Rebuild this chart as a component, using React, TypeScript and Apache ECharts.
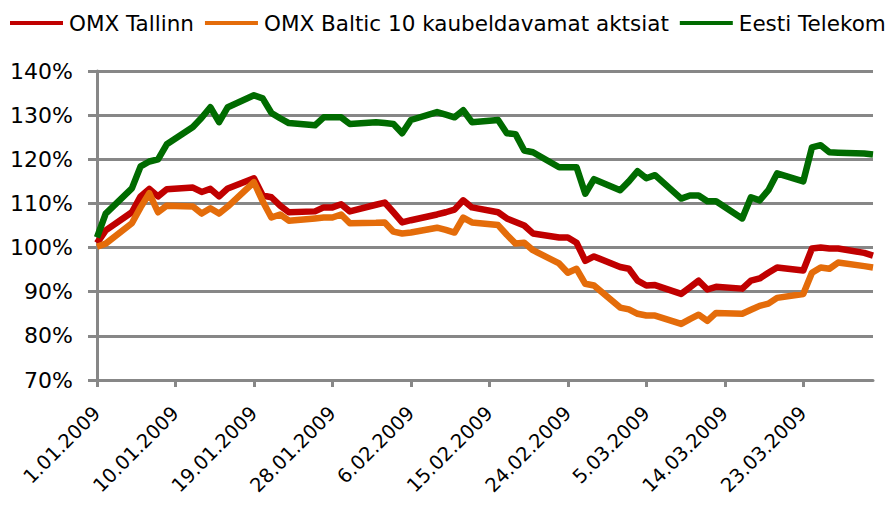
import React, { useEffect, useRef } from "react";
import * as echarts from "echarts";

const dates: string[] = [
  "2009-01-01", "2009-01-02", "2009-01-05", "2009-01-06", "2009-01-07", "2009-01-08", "2009-01-09",
  "2009-01-12", "2009-01-13", "2009-01-14", "2009-01-15", "2009-01-16",
  "2009-01-19", "2009-01-20", "2009-01-21", "2009-01-22", "2009-01-23",
  "2009-01-26", "2009-01-27", "2009-01-28", "2009-01-29", "2009-01-30",
  "2009-02-02", "2009-02-03", "2009-02-04", "2009-02-05", "2009-02-06",
  "2009-02-09", "2009-02-10", "2009-02-11", "2009-02-12", "2009-02-13",
  "2009-02-16", "2009-02-17", "2009-02-18", "2009-02-19", "2009-02-20",
  "2009-02-23", "2009-02-24", "2009-02-25", "2009-02-26", "2009-02-27",
  "2009-03-02", "2009-03-03", "2009-03-04", "2009-03-05", "2009-03-06",
  "2009-03-09", "2009-03-10", "2009-03-11", "2009-03-12", "2009-03-13",
  "2009-03-16", "2009-03-17", "2009-03-18", "2009-03-19", "2009-03-20",
  "2009-03-23", "2009-03-24", "2009-03-25", "2009-03-26", "2009-03-27",
  "2009-03-30", "2009-03-31",
];

const omxTallinn: number[] = [
  101, 103.9, 108, 111.6, 113.3, 111.6, 113.2,
  113.6, 112.6, 113.3, 111.6, 113.4,
  115.7, 111.8, 111.4, 109.5, 108,
  108.2, 109.1, 109.1, 109.8, 108.2,
  109.7, 110.2, 108, 105.7, 106.2,
  107.5, 108, 108.6, 110.7, 109.1,
  108, 106.6, 105.8, 105, 103.2,
  102.3, 102.3, 101.1, 97, 98,
  95.6, 95.2, 92.5, 91.4, 91.5,
  89.5, 91, 92.5, 90.5, 91.1,
  90.7, 92.5, 93, 94.3, 95.5,
  94.8, 99.8, 100, 99.8, 99.8,
  98.8, 98.2,
];

const omxBaltic10: number[] = [
  100.2, 100.9, 105.5, 109.1, 112.3, 108, 109.5,
  109.3, 107.7, 108.9, 107.7, 109.3,
  114.8, 110.5, 106.8, 107.5, 106.1,
  106.6, 106.8, 106.8, 107.5, 105.5,
  105.6, 105.7, 103.6, 103.2, 103.4,
  104.5, 104.0, 103.4, 106.8, 105.7,
  105.1, 102.9, 100.9, 101.1, 99.4,
  96.4, 94.3, 95.2, 91.8, 91.4,
  86.4, 86.0, 85.0, 84.6, 84.6,
  82.7, 83.8, 84.8, 83.4, 85.2,
  85.0, 85.9, 86.8, 87.3, 88.6,
  89.5, 94.3, 95.5, 95.2, 96.6,
  95.8, 95.5,
];

const eestiTelekom: number[] = [
  102.3, 107.7, 113.4, 118.4, 119.5, 120, 123.4,
  127.3, 129.4, 131.8, 128.4, 131.8,
  134.5, 133.8, 130.5, 129.3, 128.2,
  127.7, 129.5, 129.5, 129.5, 128,
  128.4, 128.2, 128.0, 125.9, 128.9,
  130.7, 130.1, 129.5, 131.1, 128.4,
  128.9, 125.9, 125.7, 122, 121.6,
  118.2, 118.2, 118.2, 112.2, 115.5,
  113, 115, 117.3, 115.7, 116.4,
  111.1, 111.8, 111.8, 110.5, 110.5,
  106.6, 111.4, 110.7, 113, 116.8,
  115, 122.7, 123.2, 121.6, 121.5,
  121.3, 121.1,
];

const seriesNames: string[] = ["OMX Tallinn", "OMX Baltic 10 kaubeldavamat aktsiat", "Eesti Telekom"];
const seriesColors: string[] = ["#C00000", "#E46C0A", "#006B00"];
const yTicks: number[] = [70, 80, 90, 100, 110, 120, 130, 140];
const xTickDays: number[] = [0, 9, 18, 27, 36, 45, 54, 63, 72, 81];

const BASE = Date.UTC(2009, 0, 1);
const DAY = 86400000;
const toDay = (s: string) => {
  const [y, m, d] = s.split("-").map(Number);
  return Math.round((Date.UTC(y, m - 1, d) - BASE) / DAY);
};
const fmtDay = (v: number) => {
  const dt = new Date(BASE + v * DAY);
  const d = dt.getUTCDate();
  const m = dt.getUTCMonth() + 1;
  return `${d}.${m < 10 ? "0" + m : m}.${dt.getUTCFullYear()}`;
};

const FONT = "'DejaVu Sans', Verdana, sans-serif";
const GRAY = "#878787";

export default function App() {
  const ref = useRef<HTMLDivElement>(null);
  useEffect(() => {
    if (!ref.current) return;
    const chart = echarts.init(ref.current, undefined, { renderer: "svg" });
    const all = [omxTallinn, omxBaltic10, eestiTelekom];
    chart.setOption({
      animation: false,
      backgroundColor: "#ffffff",
      legend: {
        left: 5,
        top: 7,
        width: 887,
        padding: [5, 0, 5, 5],
        icon: "rect",
        itemWidth: 53,
        itemHeight: 4,
        itemGap: 11,
        data: seriesNames,
        textStyle: { fontFamily: FONT, fontSize: 21.5, color: "#000", padding: [0, 0, 0, 1] },
      },
      grid: { left: 97, right: 19, top: 71, bottom: 126, containLabel: false, outerBoundsMode: "none" },
      xAxis: {
        type: "value",
        min: 0,
        max: 89,
        interval: 9,
        splitLine: { show: false },
        axisLine: { show: true, lineStyle: { color: GRAY, width: 3 } },
        axisTick: { show: true, length: 7, customValues: xTickDays, lineStyle: { color: GRAY, width: 3 } },
        axisLabel: {
          customValues: xTickDays,
          rotate: 45,
          margin: 30,
          fontFamily: FONT,
          fontSize: 19.5,
          color: "#000",
          formatter: (v: number) => fmtDay(v),
        },
      },
      yAxis: {
        type: "value",
        min: yTicks[0],
        max: yTicks[yTicks.length - 1],
        interval: 10,
        axisLine: { show: true, lineStyle: { color: GRAY, width: 3 } },
        axisTick: { show: true, length: 9, lineStyle: { color: GRAY, width: 3 } },
        splitLine: { show: true, lineStyle: { color: GRAY, width: 3 } },
        axisLabel: {
          margin: 24,
          fontFamily: FONT,
          fontSize: 22,
          color: "#000",
          formatter: (v: number) => `${v}%`,
        },
      },
      series: seriesNames.map((name, i) => ({
        name,
        type: "line",
        symbol: "none",
        color: seriesColors[i],
        lineStyle: { color: seriesColors[i], width: 6.5, join: "round", cap: "butt" },
        data: dates.map((d, k) => [toDay(d), all[i][k]]),
      })),
    });
    return () => chart.dispose();
  }, []);
  return (
    <div
      ref={ref}
      style={{ position: "absolute", left: 0, top: 0, width: 892, height: 506 }}
    />
  );
}
